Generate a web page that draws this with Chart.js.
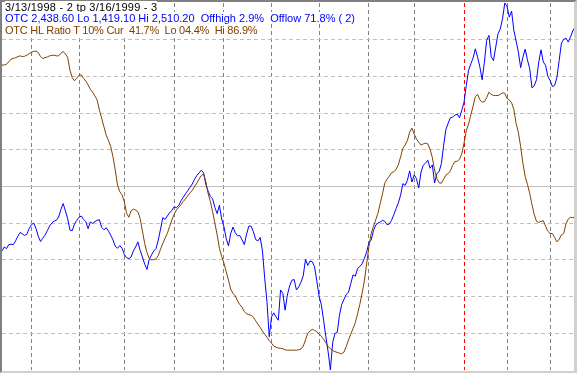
<!DOCTYPE html>
<html>
<head>
<meta charset="utf-8">
<script src="https://cdn.jsdelivr.net/npm/chart.js@4/dist/chart.umd.min.js"></script>
<style>
  html, body { margin: 0; padding: 0; background: #d4d0c8; }
  #wrap { position: relative; width: 577px; height: 373px; background: #d4d0c8; overflow: hidden; }
  #plotBg { position: absolute; left: 2px; top: 2px; width: 572px; height: 369px; background: #fff; }
  #chart { position: absolute; left: 0; top: 0; }
  #frame {
    position: absolute; left: 0; top: 0; width: 577px; height: 373px; box-sizing: border-box;
    border-left: 2px solid #808080; border-top: 2px solid #808080;
    border-right: 3px solid #d4d0c8; border-bottom: 2px solid #d4d0c8;
    pointer-events: none;
  }
  #frameInner {
    position: absolute; left: 1px; top: 1px; width: 574px; height: 371px; box-sizing: border-box;
    border-left: 1px solid #404040; border-top: 1px solid #404040;
    border-right: 1px solid #a0a0a0; border-bottom: 1px solid #a0a0a0;
    pointer-events: none;
  }
  .legend { position: absolute; left: 5px; font: 11px "Liberation Sans", Arial, sans-serif; line-height: 11.7px; white-space: pre; }
  .legend span { background: #fff; }
</style>
</head>
<body>
<div id="wrap">
  <div id="plotBg"></div>
  <canvas id="chart" width="577" height="373"></canvas>
  <div id="frameInner"></div>
  <div id="frame"></div>
  <div class="legend" style="top:1.5px;color:#000;letter-spacing:0.25px"><span>3/13/1998 - 2 tp 3/16/1999 - 3</span></div>
  <div class="legend" style="top:13.2px;color:#0000ff"><span>OTC 2,438.60 Lo 1,419.10 Hi 2,510.20  Offhigh 2.9%  Offlow 71.8% ( 2)</span></div>
  <div class="legend" style="top:24.9px;color:#804000;letter-spacing:-0.25px"><span>OTC HL Ratio T 10% Cur  41.7%  Lo 04.4%  Hi 86.9%</span></div>
</div>
<script>
// ========================================
// DATA
// ========================================

// trading calendar (NYSE holidays in the range)
const START_DATE = '1998-03-13';
const END_DATE = '1999-03-16';
const HOLIDAYS = [
    '1998-04-10', '1998-05-25', '1998-07-03', '1998-09-07', '1998-11-26',
    '1998-12-25', '1999-01-01', '1999-01-18', '1999-02-15'
];

// OTC close (index points), one per trading day
const otcClose = [
    1773, 1785, 1780, 1792, 1793, 1792, 1803, 1817, 1828, 1824,
    1819, 1823, 1840, 1851, 1856, 1840, 1817, 1801, 1811, 1820,
    1833, 1847, 1856, 1862, 1864, 1874, 1896, 1914, 1892, 1869,
    1835, 1833, 1853, 1864, 1873, 1877, 1867, 1860, 1839, 1859,
    1855, 1860, 1864, 1866, 1843, 1836, 1842, 1832, 1820, 1806,
    1787, 1781, 1789, 1781, 1763, 1753, 1750, 1755, 1773, 1785,
    1800, 1775, 1755, 1734, 1718, 1748, 1761, 1773, 1780, 1805,
    1838, 1872, 1867, 1877, 1886, 1894, 1904, 1902, 1908, 1922,
    1932, 1943, 1952, 1962, 1972, 1986, 1997, 2005, 2013, 2005,
    1971, 1951, 1935, 1928, 1902, 1884, 1909, 1868, 1845, 1810,
    1788, 1825, 1844, 1827, 1818, 1819, 1806, 1792, 1823, 1847,
    1847, 1830, 1807, 1803, 1813, 1773, 1691, 1622, 1518, 1577,
    1589, 1577, 1567, 1657, 1647, 1597, 1642, 1669, 1686, 1688,
    1657, 1666, 1680, 1699, 1748, 1730, 1743, 1741, 1726, 1684,
    1639, 1613, 1567, 1518, 1473, 1419.1, 1500, 1528, 1530, 1582,
    1614, 1629, 1644, 1650, 1676, 1702, 1698, 1721, 1727, 1735,
    1751, 1770, 1797, 1806, 1833, 1850, 1856, 1859, 1864, 1861,
    1851, 1853, 1864, 1881, 1899, 1916, 1939, 1973, 1968, 1983,
    2011, 1978, 1999, 1988, 1960, 2007, 2028, 2034, 2043, 2019,
    2029, 1975, 2003, 2009, 2033, 2087, 2134, 2153, 2169, 2171,
    2177, 2180, 2169, 2191, 2215, 2265, 2310, 2329, 2347, 2374,
    2349, 2320, 2282, 2335, 2399, 2414, 2351, 2339, 2379, 2419,
    2433, 2463, 2510.2, 2500, 2468, 2486, 2429, 2397, 2364, 2318,
    2349, 2373, 2341, 2315, 2258, 2264, 2282, 2335, 2371, 2335,
    2325, 2292, 2280, 2262, 2265, 2288, 2339, 2391, 2402, 2406,
    2394, 2409, 2427, 2438.6
];

// OTC HL ratio (%), one per trading day
const hlRatio = [
    83.1, 83.1, 83.3, 84.0, 84.7, 84.9, 85.1, 85.4, 85.6, 85.4,
    85.5, 85.8, 86.2, 86.6, 86.8, 86.9, 86.5, 85.4, 84.9, 85.1,
    85.3, 85.6, 85.7, 85.8, 85.6, 85.6, 86.3, 86.8, 86.1, 85.2,
    81.7, 79.7, 78.8, 79.5, 80.3, 80.4, 79.5, 78.7, 77.7, 76.5,
    75.7, 74.7, 73.6, 70.8, 68.6, 66.3, 64.0, 62.5, 60.9, 58.1,
    54.5, 50.4, 48.6, 47.7, 45.9, 42.7, 41.6, 43.4, 43.8, 43.6,
    43.1, 41.3, 37.9, 34.5, 32.0, 30.4, 30.0, 30.1, 30.3, 31.2,
    32.9, 34.5, 35.9, 37.2, 39.1, 40.9, 42.4, 43.6, 44.3, 45.0,
    45.9, 46.6, 47.4, 48.3, 48.9, 50.0, 50.9, 52.0, 53.0, 53.4,
    51.3, 48.1, 45.9, 43.1, 40.0, 36.8, 33.2, 30.9, 29.1, 26.8,
    24.5, 22.0, 20.9, 20.2, 18.8, 17.8, 17.1, 15.9, 15.3, 15.1,
    14.9, 14.4, 13.4, 12.5, 11.6, 10.6, 9.8, 8.9, 8.0, 7.3,
    6.5, 6.2, 6.0, 5.9, 5.8, 5.5, 5.4, 5.4, 5.4, 5.4,
    5.4, 5.5, 5.7, 6.5, 8.2, 10.0, 10.6, 11.1, 10.8, 10.4,
    9.8, 9.2, 8.4, 7.4, 6.4, 5.8, 5.3, 5.0, 4.8, 4.6,
    4.4, 4.9, 6.4, 8.2, 9.8, 11.3, 12.9, 15.3, 17.9, 20.9,
    24.3, 28.9, 33.6, 37.2, 39.1, 40.9, 42.7, 45.4, 48.0, 50.9,
    52.0, 52.8, 53.8, 54.0, 54.7, 55.9, 58.1, 60.4, 61.3, 62.5,
    64.8, 65.9, 64.3, 62.9, 62.1, 61.3, 61.6, 61.8, 61.6, 60.2,
    57.9, 54.5, 52.2, 51.0, 50.9, 52.0, 53.1, 53.5, 54.3, 55.8,
    56.8, 56.9, 57.4, 58.9, 61.8, 65.2, 67.0, 69.5, 71.9, 74.5,
    75.1, 73.6, 73.0, 73.1, 74.2, 75.7, 75.1, 74.8, 74.8, 74.8,
    75.1, 75.5, 75.4, 74.0, 73.6, 72.8, 71.0, 67.2, 64.7, 60.9,
    56.3, 52.7, 50.6, 48.1, 45.1, 42.4, 40.5, 40.2, 40.5, 40.7,
    39.2, 37.8, 37.2, 37.2, 36.1, 34.9, 35.6, 36.8, 37.2, 39.8,
    41.1, 41.6, 41.5, 41.7
];

// axis ranges (from the header: Lo / Hi of the OTC, ratio in percent)
const OTC_LO = 1419.1;
const OTC_HI = 2510.2;
const RATIO_TICKS = [0, 10, 20, 30, 40, 50, 60, 70, 80, 90, 100];

// ========================================
// HELPERS
// ========================================

function buildTradingDays(start, end, holidays) {
    const days = [];
    const d = new Date(start + 'T00:00:00Z');
    const last = new Date(end + 'T00:00:00Z');
    while (d <= last) {
        const iso = d.toISOString().slice(0, 10);
        const wd = d.getUTCDay();
        if (wd !== 0 && wd !== 6 && !holidays.includes(iso)) days.push(iso);
        d.setUTCDate(d.getUTCDate() + 1);
    }
    return days;
}

const dayLabels = buildTradingDays(START_DATE, END_DATE, HOLIDAYS);

// first trading day of each month -> gray grid line, new year -> red line
const monthStarts = [];
const yearStarts = [];
dayLabels.forEach((d, i) => {
    if (i === 0) return;
    const prev = dayLabels[i - 1];
    if (d.slice(0, 4) !== prev.slice(0, 4)) yearStarts.push(i);
    else if (d.slice(0, 7) !== prev.slice(0, 7)) monthStarts.push(i);
});

function fixedTicks(list) {
    return scale => { scale.ticks = list.map(v => ({ value: v })); };
}

// red dashed separator at the year change, placed by the x scale
const yearLinePlugin = {
    id: 'yearLine',
    beforeDatasetsDraw(chart) {
        const { ctx, chartArea, scales } = chart;
        ctx.save();
        ctx.strokeStyle = '#ff0000';
        ctx.lineWidth = 1;
        ctx.setLineDash([4, 3]);
        yearStarts.forEach(i => {
            const px = Math.round(scales.x.getPixelForValue(i) - 0.5) + 0.5;
            ctx.beginPath();
            ctx.moveTo(px, chartArea.top);
            ctx.lineTo(px, chartArea.bottom);
            ctx.stroke();
        });
        ctx.restore();
    }
};

// ========================================
// CHART
// ========================================

const ctx = document.getElementById('chart');

new Chart(ctx, {
    type: 'line',
    data: {
        labels: dayLabels,
        datasets: [
            {
                label: 'OTC HL Ratio',
                data: hlRatio,
                yAxisID: 'yRatio',
                borderColor: '#804000',
                borderWidth: 1,
                pointRadius: 0,
                tension: 0
            },
            {
                label: 'OTC',
                data: otcClose,
                yAxisID: 'yOtc',
                borderColor: '#0000ff',
                borderWidth: 1,
                pointRadius: 0,
                tension: 0
            }
        ]
    },
    options: {
        responsive: false,
        animation: false,
        events: [],
        layout: {
            padding: { left: 2, right: 2, top: 3, bottom: 3 }
        },
        plugins: {
            legend: { display: false },
            tooltip: { enabled: false },
            title: { display: false }
        },
        scales: {
            x: {
                type: 'category',
                offset: false,
                afterBuildTicks: fixedTicks(monthStarts),
                ticks: { display: false, autoSkip: false },
                grid: {
                    drawTicks: false,
                    offset: false,
                    lineWidth: 1,
                    color: '#808080'
                },
                border: { display: false, dash: [4, 3] }
            },
            yOtc: {
                type: 'linear',
                position: 'left',
                min: OTC_LO,
                max: OTC_HI,
                display: false
            },
            yRatio: {
                type: 'linear',
                position: 'right',
                min: 0,
                max: 100,
                afterBuildTicks: fixedTicks(RATIO_TICKS),
                ticks: { display: false },
                grid: {
                    drawTicks: false,
                    lineWidth: 1,
                    color: c => (c.tick && (c.tick.value === 0 || c.tick.value === 100)) ? 'rgba(0,0,0,0)' : '#c0c0c0'
                },
                border: {
                    display: false,
                    dash: c => (c.tick && c.tick.value === 50) ? [] : [4, 3]
                }
            }
        }
    },
    plugins: [yearLinePlugin]
});
</script>
</body>
</html>
